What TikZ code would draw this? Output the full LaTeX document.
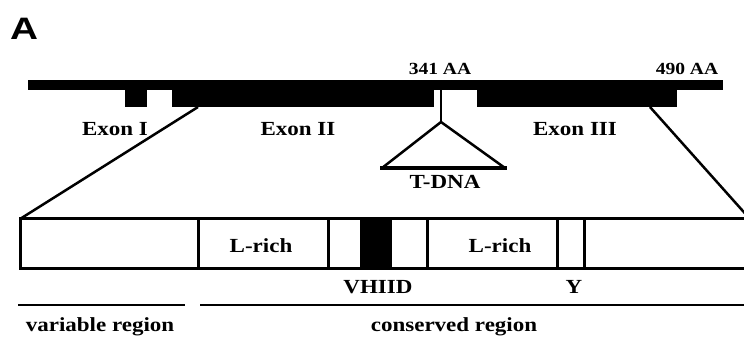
\documentclass[tikz,border=0pt]{standalone}
\usepackage{fontspec}
\setmainfont{Liberation Serif}[FakeStretch=1.15]
\newfontfamily\panelfont{Liberation Sans}[FakeStretch=1.25]
\begin{document}
\begin{tikzpicture}[x=1pt,y=-1pt,
  lab/.style={font=\fontsize{20}{22}\selectfont\bfseries, anchor=base, inner sep=0pt},
  numlab/.style={font=\fontsize{17}{19}\selectfont\bfseries, anchor=base, inner sep=0pt},
  exonbox/.style={fill=black, draw=none},
  seg/.style={draw=black, line width=3pt},
  thinline/.style={line width=2.5pt},
  ]
\useasboundingbox (0,0) rectangle (744,339);
\clip (0,0) rectangle (744,339);
% panel label
\node[font=\panelfont\fontsize{31}{33}\selectfont\bfseries, anchor=base, inner sep=0pt] (panel) at (24,40) {A};
% gene: intron line and exons
\fill (28,80) rectangle (723,90);
\path[exonbox] (125,80) rectangle (147,107);
\path[exonbox] (172,80) rectangle (434,107);
\coordinate (e2bl) at (198,107);
\path[exonbox] (477,80) rectangle (677,107);
\coordinate (e3br) at (650,107);
% T-DNA insertion
\coordinate (ins) at (441,90);
\coordinate (apex) at (441,122);
\coordinate (tl) at (382,168);
\coordinate (tr) at (505,168);
\draw[thinline] (ins) -- (apex);
\draw[thinline, line join=miter] (tl) -- (apex) -- (tr);
\draw[line width=4pt] ([xshift=-2pt]tl) -- ([xshift=2pt]tr);
% labels
\node[numlab] (aa341) at (440,75) {341 AA};
\node[numlab] (aa490) at (687,75) {490 AA};
\node[lab] (ex1) at (115,136) {Exon I};
\node[lab] (ex2) at (298,136) {Exon II};
\node[lab] (ex3) at (575,136) {Exon III};
\node[lab] (tdna) at (445,189) {T-DNA};
% domain box
\coordinate (bl) at (20,219);
\coordinate (br) at (750,219);
\fill (360,219) rectangle (392,268);
\draw[seg] (bl) rectangle (750,268);
\foreach \x in {198,328,427,557,584}{\draw[seg] (\x,219) -- (\x,268);}
% zoom lines
\draw[thinline] (e2bl) -- (bl);
\draw[thinline] (e3br) -- (br);
% domain labels
\node[lab] (lr1) at (261,252) {L-rich};
\node[lab] (lr2) at (500,252) {L-rich};
\node[lab] (vh) at (378,293) {VHIID};
\node[lab] (yy) at (574,293) {Y};
% region lines
\coordinate (v1) at (18,305); \coordinate (v2) at (185,305);
\coordinate (c1) at (200,305); \coordinate (c2) at (746,305);
\draw[thinline] (v1) -- (v2);
\draw[thinline] (c1) -- (c2);
\node[lab] (varr) at (100,331) {variable region};
\node[lab] (conr) at (454,331) {conserved region};
\end{tikzpicture}
\end{document}
